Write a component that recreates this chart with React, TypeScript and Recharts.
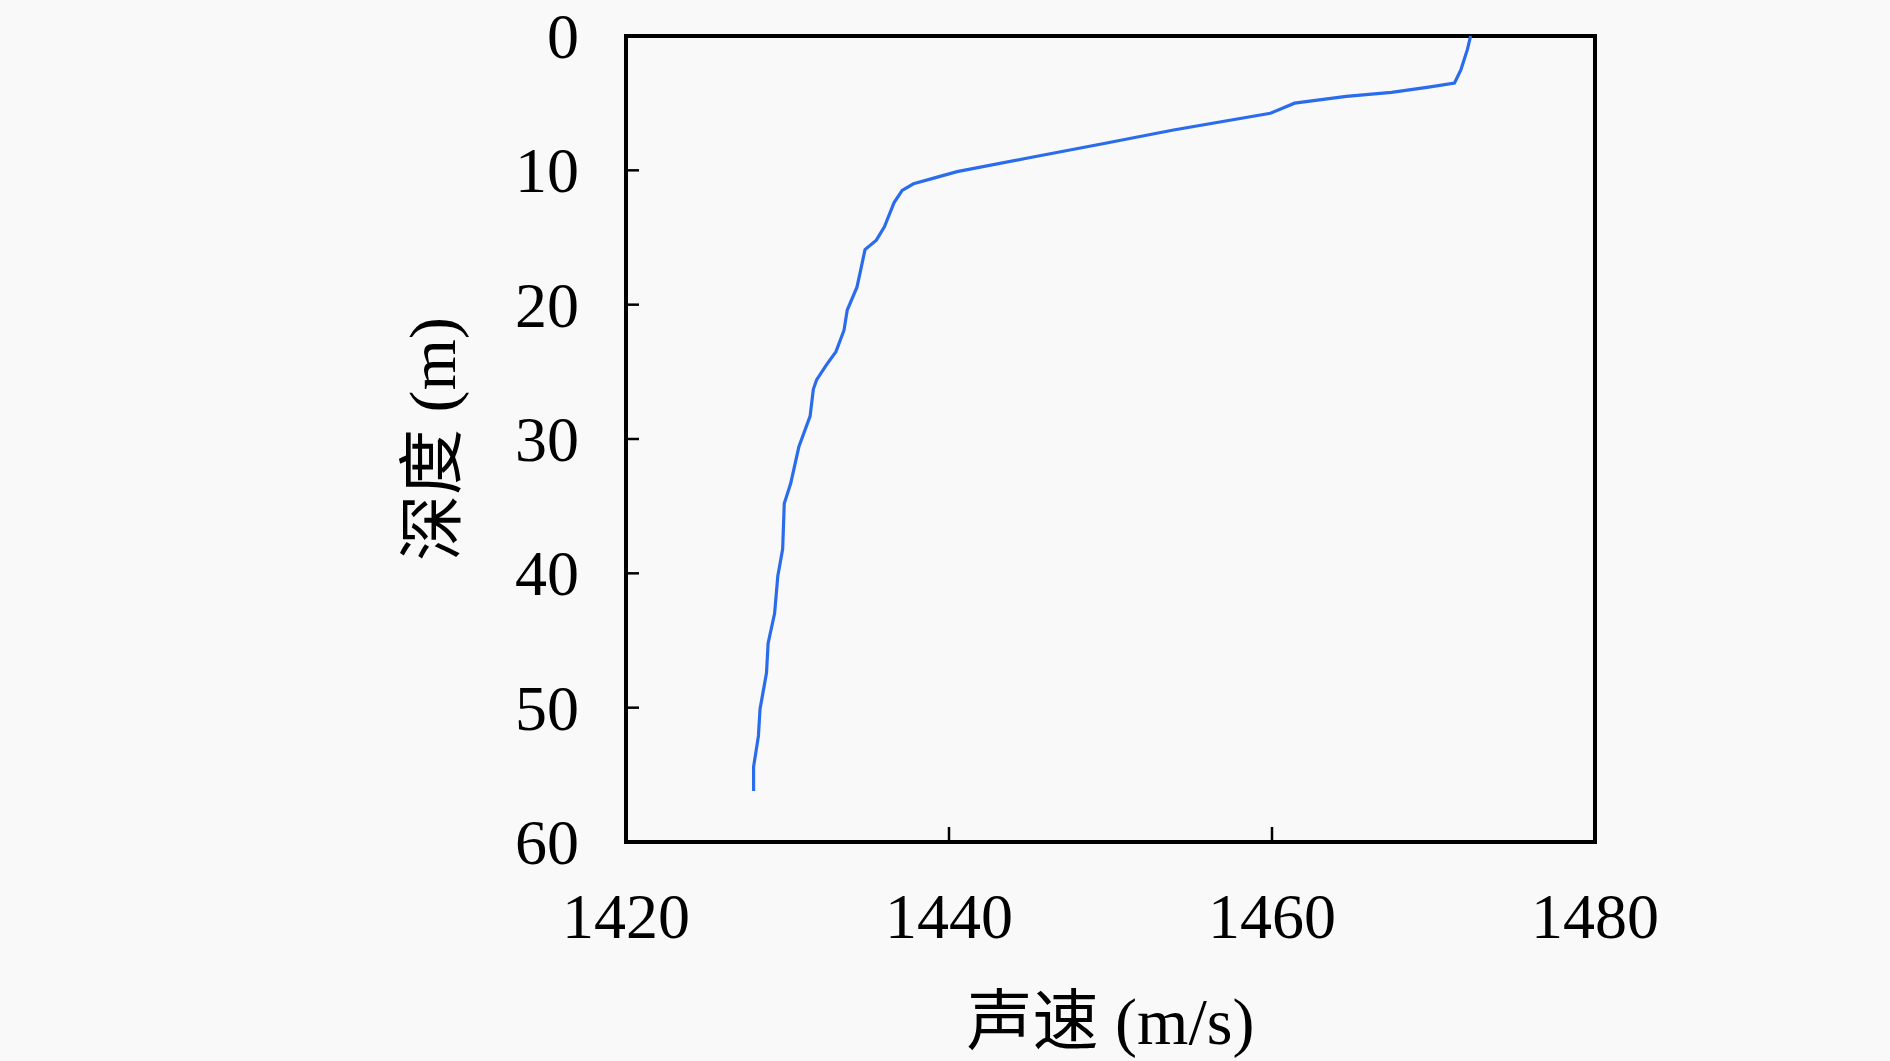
import React from 'react';
import { LineChart, Line, XAxis, YAxis, ReferenceArea } from 'recharts';

const depths = [0, 1.0, 2.5, 3.5, 3.8, 4.2, 4.5, 5.0, 5.75, 7.0, 8.0, 9.1, 10.1, 10.6, 11.0, 11.5, 12.4, 14.2, 15.2, 15.9, 17.6, 18.7, 20.4, 21.9, 23.5, 24.5, 25.6, 26.3, 28.3, 30.6, 33.3, 34.8, 38.2, 40.2, 43.0, 45.2, 47.4, 50.1, 52.1, 54.4, 56.2];
const speeds = [1472.3, 1472.1, 1471.7, 1471.3, 1469.7, 1467.4, 1464.6, 1461.4, 1459.9, 1453.9, 1449.6, 1444.8, 1440.5, 1439.0, 1437.8, 1437.1, 1436.6, 1436.0, 1435.5, 1434.8, 1434.5, 1434.3, 1433.7, 1433.5, 1433.0, 1432.4, 1431.8, 1431.6, 1431.4, 1430.7, 1430.2, 1429.8, 1429.7, 1429.4, 1429.2, 1428.8, 1428.7, 1428.3, 1428.2, 1427.9, 1427.9];
const speedTicks = [1420, 1440, 1460, 1480];
const depthTicks = [0, 10, 20, 30, 40, 50, 60];
const xLabel = '声速 (m/s)';
const yLabel = '深度 (m)';

const data = depths.map((d, i) => ({ depth: d, speed: speeds[i] }));

const FONT = '"Liberation Serif", "Noto Sans CJK SC", serif';

const XTick = (props: any) => {
  const { x, y, payload } = props;
  return (
    <g>
      <line x1={x} x2={x} y1={y} y2={y - 15} stroke="#000" strokeWidth={2.5} />
      <text x={x} y={y + 96} textAnchor="middle" fontSize={64} fontFamily={FONT} fill="#000">
        {payload.value}
      </text>
    </g>
  );
};

const YTick = (props: any) => {
  const { x, y, payload } = props;
  return (
    <g>
      <line x1={x + 47} x2={x + 60} y1={y} y2={y} stroke="#000" strokeWidth={2.5} />
      <text x={x} y={y + 22} textAnchor="end" fontSize={64} fontFamily={FONT} fill="#000">
        {payload.value}
      </text>
    </g>
  );
};

const XLabel = (props: any) => {
  const vb = props.viewBox;
  return (
    <text x={vb.x + vb.width / 2} y={vb.y + 202} textAnchor="middle" fontSize={66} fontFamily={FONT} fill="#000">
      {xLabel}
    </text>
  );
};

const YLabel = (props: any) => {
  const vb = props.viewBox;
  const cx = vb.x + vb.width - 171;
  const cy = vb.y + vb.height / 2;
  return (
    <text x={cx} y={cy} transform={`rotate(-90, ${cx}, ${cy})`} textAnchor="middle" fontSize={66} fontFamily={FONT} fill="#000">
      {yLabel}
    </text>
  );
};

export default function App() {
  return (
    <div style={{ position: 'absolute', left: 0, top: 0, width: 1890, height: 1061, background: '#f9f9f9' }}>
      <LineChart
        width={1890}
        height={1061}
        data={data}
        layout="vertical"
        margin={{ top: 36, right: 295, bottom: 38, left: 426 }}
      >
        <XAxis
          type="number"
          dataKey="speed"
          domain={[1420, 1480]}
          ticks={speedTicks}
          interval={0}
          height={181}
          axisLine={{ stroke: '#000', strokeWidth: 4 }}
          tickLine={false}
          tickSize={0}
          tickMargin={0}
          tick={<XTick />}
          label={<XLabel />}
        />
        <YAxis
          type="number"
          dataKey="depth"
          domain={[0, 60]}
          ticks={depthTicks}
          interval={0}
          width={200}
          axisLine={{ stroke: '#000', strokeWidth: 4 }}
          tickLine={false}
          tickSize={0}
          tickMargin={47}
          tick={<YTick />}
          label={<YLabel />}
        />
        <ReferenceArea x1={1420} x2={1480} y1={0} y2={60} fill="none" stroke="#000" strokeWidth={4} fillOpacity={0} />
        <Line type="linear" dataKey="speed" stroke="#2a6cec" strokeWidth={3.2} dot={false} isAnimationActive={false} />
      </LineChart>
    </div>
  );
}
